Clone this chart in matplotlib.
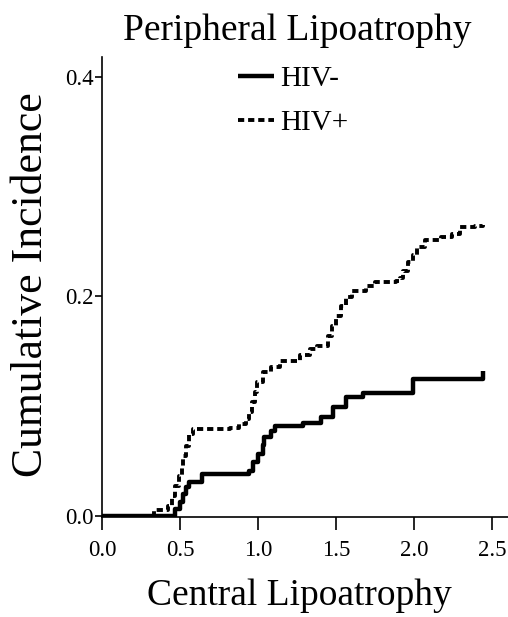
import matplotlib
matplotlib.use("Agg")
import matplotlib.pyplot as plt

plt.rcParams['font.family'] = ['Liberation Serif', 'DejaVu Serif']

# HIV- (solid step curve)
neg_x = [0.0, 0.47, 0.50, 0.52, 0.54, 0.56, 0.64, 0.94, 0.97, 1.00, 1.03, 1.04,
         1.08, 1.11, 1.29, 1.40, 1.48, 1.56, 1.67, 1.99, 2.44]
neg_y = [0.0, 0.006, 0.013, 0.020, 0.026, 0.031, 0.038, 0.041, 0.049, 0.056, 0.065,
         0.072, 0.077, 0.082, 0.085, 0.090, 0.099, 0.108, 0.112, 0.125, 0.132]

# HIV+ (dashed step curve)
pos_x = [0.0, 0.33, 0.42, 0.45, 0.47, 0.49, 0.51, 0.52, 0.54, 0.56, 0.58, 0.82, 0.88,
         0.92, 0.94, 0.96, 0.98, 0.99, 1.03, 1.08, 1.14, 1.27, 1.33, 1.38, 1.45, 1.47,
         1.50, 1.53, 1.56, 1.60, 1.69, 1.75, 1.88, 1.91, 1.93, 1.96, 1.99, 2.02, 2.07,
         2.17, 2.24, 2.29, 2.39, 2.44]
pos_y = [0.0, 0.005, 0.009, 0.018, 0.027, 0.036, 0.045, 0.055, 0.064, 0.075, 0.079,
         0.080, 0.084, 0.088, 0.095, 0.104, 0.113, 0.122, 0.131, 0.136, 0.141, 0.147,
         0.152, 0.155, 0.164, 0.173, 0.182, 0.191, 0.199, 0.205, 0.209, 0.213, 0.214,
         0.217, 0.223, 0.231, 0.238, 0.245, 0.251, 0.254, 0.257, 0.263, 0.264, 0.265]

xticks = [0.0, 0.5, 1.0, 1.5, 2.0, 2.5]
yticks = [0.0, 0.2, 0.4]

fig = plt.figure(figsize=(5.08, 6.17), dpi=100)
ax = fig.add_axes([102 / 508, 100 / 617, 406 / 508, 460 / 617])

ax.plot(neg_x, neg_y, drawstyle='steps-post', color='black', lw=3.2,
        solid_capstyle='butt', label='HIV-')
ax.plot(pos_x, pos_y, drawstyle='steps-post', color='black', lw=2.8,
        linestyle=(0, (1.6, 1.0)), label='HIV+')

ax.set_xlim(0, 2.6)
ax.set_ylim(-0.001, 0.418)
ax.set_xticks(xticks)
ax.set_xticklabels([f'{v:.1f}' for v in xticks])
ax.set_yticks(yticks)
ax.set_yticklabels([f'{v:.1f}' for v in yticks])

for s in ['top', 'right']:
    ax.spines[s].set_visible(False)
for s in ['left', 'bottom']:
    ax.spines[s].set_linewidth(1.2)

ax.tick_params(axis='x', direction='out', length=9.5, width=1.2, labelsize=16.5, pad=7)
ax.tick_params(axis='y', direction='out', length=5, width=1.2, labelsize=16.5, pad=1)

fig.text(297 / 508, 1 - 31 / 617, 'Peripheral Lipoatrophy', ha='center', va='center', fontsize=27)
fig.text(299 / 508, 1 - 596 / 617, 'Central Lipoatrophy', ha='center', va='center', fontsize=27)
fig.text(31 / 508, 1 - 285 / 617, 'Cumulative Incidence', ha='center', va='center',
         rotation=90, fontsize=31.5)

ax.legend(loc='upper left', bbox_to_anchor=(238 / 508, 1 - 66 / 617),
          bbox_transform=fig.transFigure, frameon=False, fontsize=21,
          handlelength=1.25, handletextpad=0.2, labelspacing=0.6,
          borderpad=0, borderaxespad=0)

fig.savefig('out.png', dpi=100)
